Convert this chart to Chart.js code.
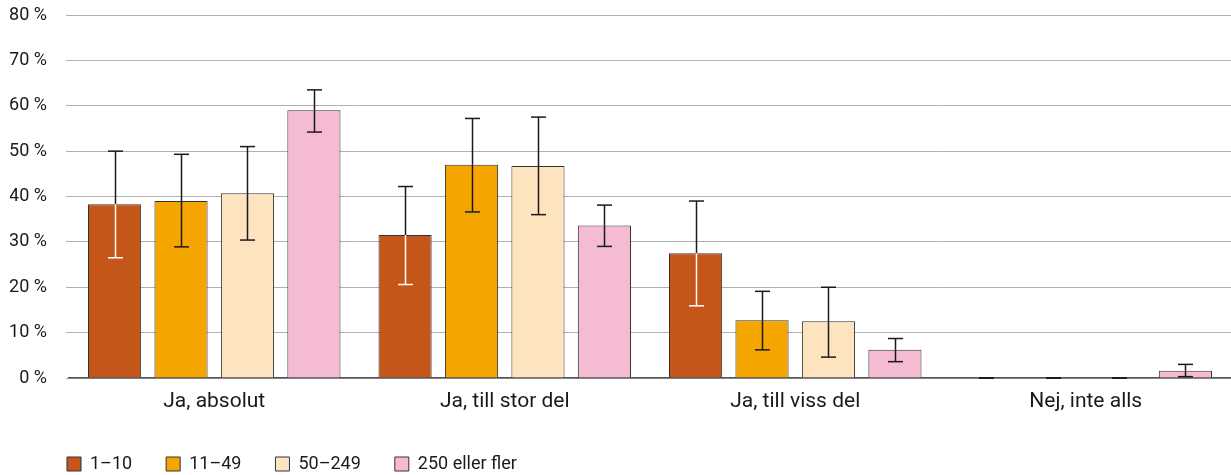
<!DOCTYPE html>
<html>
<head>
<meta charset="utf-8">
<script src="https://cdn.jsdelivr.net/npm/chart.js@4"></script>
<style>
  html, body { margin: 0; padding: 0; background: #fff; }
  canvas { display: block; }
</style>
</head>
<body>
<canvas id="chart" width="1231" height="475"></canvas>
<script>
// Categories and series
const categories = ['Ja, absolut', 'Ja, till stor del', 'Ja, till viss del', 'Nej, inte alls'];
const seriesNames = ['1–10', '11–49', '50–249', '250 eller fler'];

const values1to10 = [38.3, 31.5, 27.5, 0];
const values11to49 = [39.0, 47.0, 12.7, 0];
const values50to249 = [40.7, 46.7, 12.5, 0];
const values250plus = [59.0, 33.6, 6.2, 1.6];

// Confidence intervals (low / high)
const low1to10 = [26.5, 20.6, 15.9, 0];
const high1to10 = [50.0, 42.2, 39.0, 0];
const low11to49 = [28.9, 36.6, 6.2, 0];
const high11to49 = [49.3, 57.2, 19.1, 0];
const low50to249 = [30.4, 36.0, 4.6, 0];
const high50to249 = [51.0, 57.5, 20.0, 0];
const low250plus = [54.2, 29.0, 3.6, 0.3];
const high250plus = [63.5, 38.1, 8.7, 3.0];

const yTicks = [0, 10, 20, 30, 40, 50, 60, 70, 80];

const seriesColors = ['#C4561A', '#F5A500', '#FDE4BF', '#F4BBD2'];

const allValues = [values1to10, values11to49, values50to249, values250plus];
const allLows = [low1to10, low11to49, low50to249, low250plus];
const allHighs = [high1to10, high11to49, high50to249, high250plus];

// Draws error bars; inside the dark bar the part below the bar top is white
const errorBarPlugin = {
    id: 'errorBars',
    afterDatasetsDraw(chart) {
        const ctx = chart.ctx;
        const yScale = chart.scales.y;
        const capHalf = 7.5;
        ctx.save();
        ctx.lineWidth = 1.5;
        chart.data.datasets.forEach((ds, i) => {
            const meta = chart.getDatasetMeta(i);
            meta.data.forEach((bar, j) => {
                const x = Math.round(bar.x) + 0.5;
                const yLo = yScale.getPixelForValue(allLows[i][j]);
                const yHi = yScale.getPixelForValue(allHighs[i][j]);
                const yTop = bar.y;
                const darkBar = i === 0 && allValues[i][j] > 0;
                const inner = darkBar ? '#ffffff' : '#1a1a1a';

                // part above the bar
                ctx.strokeStyle = '#1a1a1a';
                ctx.beginPath();
                ctx.moveTo(x, yHi);
                ctx.lineTo(x, Math.min(yTop, yLo));
                ctx.stroke();
                // part inside the bar
                ctx.strokeStyle = inner;
                ctx.beginPath();
                ctx.moveTo(x, Math.max(yHi, yTop));
                ctx.lineTo(x, yLo);
                ctx.stroke();
                // caps
                ctx.strokeStyle = yHi < yTop || !darkBar ? '#1a1a1a' : inner;
                ctx.beginPath();
                ctx.moveTo(x - capHalf, yHi);
                ctx.lineTo(x + capHalf, yHi);
                ctx.stroke();
                ctx.strokeStyle = yLo > yTop ? inner : '#1a1a1a';
                ctx.beginPath();
                ctx.moveTo(x - capHalf, yLo);
                ctx.lineTo(x + capHalf, yLo);
                ctx.stroke();
            });
        });
        ctx.restore();
    }
};

// Moves the legend to its place at bottom left
const legendShift = {
    id: 'legendShift',
    afterLayout(chart) {
        const lg = chart.legend;
        if (!lg) return;
        lg.left += 23;
        lg.right += 23;
        lg.top += 8;
        lg.bottom += 8;
    }
};

const datasets = seriesNames.map((name, i) => ({
    label: name,
    data: allValues[i],
    backgroundColor: seriesColors[i],
    borderColor: '#333333',
    borderWidth: 1,
    categoryPercentage: 0.915,
    barPercentage: 0.8
}));

new Chart(document.getElementById('chart'), {
    type: 'bar',
    data: {
        labels: categories,
        datasets: datasets
    },
    plugins: [errorBarPlugin, legendShift],
    options: {
        responsive: false,
        animation: false,
        layout: {
            padding: { left: 10, right: -3, top: 15, bottom: 0 }
        },
        scales: {
            x: {
                grid: { display: false, drawTicks: false },
                border: { display: true, color: '#555555', width: 1.5 },
                ticks: {
                    color: '#1a1a1a',
                    padding: 11,
                    font: { family: 'Roboto', size: 21 }
                },
                afterFit(scale) { scale.height = 35; }
            },
            y: {
                min: 0,
                max: 80,
                afterBuildTicks(scale) {
                    scale.ticks = yTicks.map(v => ({ value: v }));
                },
                grid: { color: '#b0b0b0', lineWidth: 1, drawTicks: true, tickLength: 3 },
                border: { display: false },
                ticks: {
                    color: '#1a1a1a',
                    padding: 19,
                    font: { family: 'Roboto', size: 18 },
                    callback: v => v + ' %'
                },
                afterFit(scale) {
                    scale.width = 59;
                    scale.paddingTop = 0;
                    scale.paddingBottom = 0;
                }
            }
        },
        plugins: {
            legend: {
                position: 'bottom',
                align: 'start',
                labels: {
                    boxWidth: 14,
                    boxHeight: 14,
                    padding: 34,
                    color: '#1a1a1a',
                    font: { family: 'Roboto', size: 18 }
                }
            },
            tooltip: { enabled: false }
        }
    }
});
</script>
</body>
</html>
